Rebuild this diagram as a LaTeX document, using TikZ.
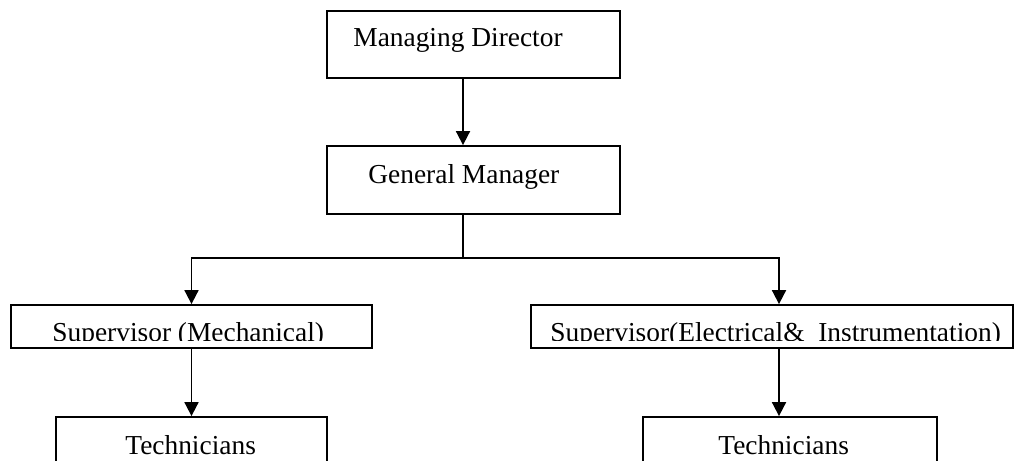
\documentclass[tikz,border=0pt]{standalone}
\usepackage{fontspec}
\setmainfont{Liberation Serif}
\usetikzlibrary{arrows.meta}
\tikzset{
  box/.style={draw, line width=0.9pt, inner sep=0pt},
  lbl/.style={anchor=base west, inner sep=0pt, font=\fontsize{13.7}{16}\selectfont},
  link/.style={line width=0.9pt, -{Triangle[length=7pt,width=7pt]}}
}
\begin{document}
\begin{tikzpicture}[x=0.5pt,y=-0.5pt]
    \clip (0,0) rectangle (1015,460);
    %% directors
    \node[box, minimum width=146.5pt, minimum height=33.5pt] (md) at (473.5,44.5) {};
    \node[lbl] (mdt) at (353,47) {Managing Director};
    \node[box, minimum width=146.5pt, minimum height=34pt] (gm) at (473.5,180) {};
    \node[lbl] (gmt) at (368,183) {General Manager};
    %% supervisors
    \node[box, minimum width=180.5pt, minimum height=21.5pt] (sm) at (191.5,326.5) {};
    \node[box, minimum width=241pt, minimum height=21.5pt] (se) at (772,326.5) {};
    \begin{scope}
        \clip (0,0) rectangle (1015,340);
        \node[lbl] (smt) at (52,341) {Supervisor (Mechanical)};
        \node[lbl] (set) at (550,341) {Supervisor(Electrical\&\ \ Instrumentation)};
    \end{scope}
    %% technicians
    \node[box, minimum width=135.5pt, minimum height=36.5pt] (tl) at (191.5,453.5) {};
    \node[lbl] (tlt) at (125,454) {Technicians};
    \node[box, minimum width=147pt, minimum height=36.5pt] (tr) at (790,453.5) {};
    \node[lbl] (trt) at (718,454) {Technicians};
    %% links
    \coordinate (fork) at (463,258);
    \draw[link] ([xshift=-5.25pt]md.south) -- ([xshift=-5.25pt]gm.north);
    \draw[line width=0.9pt] ([xshift=-5.25pt]gm.south) -- (fork);
    \draw[link] (fork) -| (sm.north);
    \draw[link] (fork) -| ([xshift=3.5pt]se.north);
    \draw[link] (sm.south) -- (tl.north);
    \draw[link] ([xshift=3.5pt]se.south) -- ([xshift=-5.5pt]tr.north);
\end{tikzpicture}
\end{document}
